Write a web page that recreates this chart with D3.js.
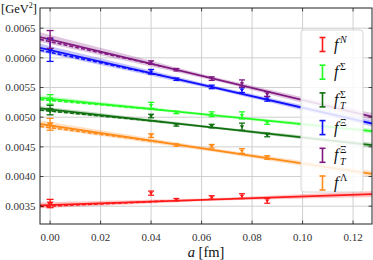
<!DOCTYPE html>
<html><head><meta charset="utf-8">
<script src="https://cdn.jsdelivr.net/npm/d3@7"></script>
<style>body{margin:0;background:#fff}svg{display:block}</style>
</head><body>
<svg id="c" width="373" height="260"></svg>
<script>
const aVals = [0, 0.040, 0.050, 0.064, 0.076, 0.086];
const xTicks = [0, 0.02, 0.04, 0.06, 0.08, 0.10, 0.12];
const yTicks = [0.0035, 0.0040, 0.0045, 0.0050, 0.0055, 0.0060, 0.0065];
const names = ["N", "Sigma", "TSigma", "Xi", "TXi", "Lambda"];
const colors = ["#ff1a1a", "#22ff22", "#107010", "#1010ff", "#801880", "#ff8c1a"];
const fN      = [0.003545, 0.00372, 0.00361, 0.003647, 0.00367, 0.00359];
const fNErr   = [0.00007, 0.000035, 0.00002, 0.00003, 0.00004, 0.00004];
const fS      = [0.00530, 0.00520, 0.00508, 0.00505, 0.00503, 0.00491];
const fSErr   = [0.00008, 0.00005, 0.00002, 0.00004, 0.00006, 0.00003];
const fTS     = [0.00512, 0.00502, 0.00487, 0.00485, 0.00484, 0.00470];
const fTSErr  = [0.00008, 0.00003, 0.00002, 0.00003, 0.00006, 0.00003];
const fX      = [0.00613, 0.005765, 0.00564, 0.00551, 0.005456, 0.00531];
const fXErr   = [0.00019, 0.00004, 0.00002, 0.00003, 0.00004, 0.00004];
const fTX     = [0.00631, 0.00592, 0.00580, 0.00565, 0.005568, 0.005388];
const fTXErr  = [0.00015, 0.00003, 0.00002, 0.00003, 0.00006, 0.00004];
const fL      = [0.00488, 0.00469, 0.00453, 0.00451, 0.00443, 0.00432];
const fLErr   = [0.00010, 0.00003, 0.00002, 0.00003, 0.00004, 0.00003];
const values = [fN, fS, fTS, fX, fTX, fL];
const errors = [fNErr, fSErr, fTSErr, fXErr, fTXErr, fLErr];
// linear fits: intercept, slope
const fitIntercept = [0.00352, 0.00531, 0.00513, 0.00613, 0.00631, 0.00486];
const fitSlope     = [0.00145, -0.00427, -0.0047, -0.0097, -0.0102, -0.0064];
// band half-widths at a = bandA
const bandA = [-0.004, 0.065, 0.1275];
const bandHW = [
  [0.00005, 0.00002, 0.00005],
  [0.00004, 0.00002, 0.00004],
  [0.00004, 0.00002, 0.00004],
  [0.00007, 0.00003, 0.00005],
  [0.00008, 0.00003, 0.00006],
  [0.00006, 0.00003, 0.00005]];
// alternative (dashed) fit: offset at a=-0.004, meets main fit at dashEnd
const dashOffset = [0.00002, 0.00003, 0.00003, 0.00004, 0.00004, 0.00004];
const dashEnd = 0.045;
const labels = [["N","",true],["Σ","",false],["Σ","T",false],["Ξ","",false],["Ξ","T",false],["Λ","",false]];

const svg = d3.select("#c");
const L=40, R=372, T=8, B=224;
const x = d3.scaleLinear().domain([-0.004, 0.1275]).range([L, R]);
const y = d3.scaleLinear().domain([0.00320, 0.00684]).range([B, T]);

svg.append("defs").append("clipPath").attr("id","clip")
  .append("rect").attr("x",L).attr("y",T).attr("width",R-L).attr("height",B-T);

// grid
const g = svg.append("g");
g.selectAll(".gx").data(xTicks).join("line")
  .attr("x1",d=>x(d)).attr("x2",d=>x(d)).attr("y1",T).attr("y2",B)
  .attr("stroke","#cfcfcf").attr("stroke-width",1);
g.selectAll(".gy").data(yTicks).join("line")
  .attr("y1",d=>y(d)).attr("y2",d=>y(d)).attr("x1",L).attr("x2",R)
  .attr("stroke","#cfcfcf").attr("stroke-width",1);

const plot = svg.append("g").attr("clip-path","url(#clip)");
const dom = x.domain();
const fit = (i,a)=>fitIntercept[i]+fitSlope[i]*a;
const hw = (i,a)=>{
  const A=bandA, H=bandHW[i];
  if (a<=A[1]) return H[0]+(H[1]-H[0])*(a-A[0])/(A[1]-A[0]);
  return H[1]+(H[2]-H[1])*(a-A[1])/(A[2]-A[1]);
};
const grid = d3.range(0, 41).map(k=>dom[0]+(dom[1]-dom[0])*k/40);

names.forEach((n,i)=>{
  const area = d3.area().x(a=>x(a)).y0(a=>y(fit(i,a)-hw(i,a))).y1(a=>y(fit(i,a)+hw(i,a)));
  plot.append("path").attr("d",area(grid)).attr("fill",colors[i]).attr("opacity",0.25);
});
names.forEach((n,i)=>{
  plot.append("line").attr("x1",x(dom[0])).attr("x2",x(dom[1]))
    .attr("y1",y(fit(i,dom[0]))).attr("y2",y(fit(i,dom[1])))
    .attr("stroke",colors[i]).attr("stroke-width",1.8);
  plot.append("line").attr("x1",x(dom[0])).attr("x2",x(dashEnd))
    .attr("y1",y(fit(i,dom[0])-dashOffset[i])).attr("y2",y(fit(i,dashEnd)))
    .attr("stroke",colors[i]).attr("stroke-width",1.6).attr("stroke-dasharray","4,2");
});
// error bars
names.forEach((n,i)=>{
  const gg = plot.append("g").attr("stroke",colors[i]).attr("fill",colors[i]);
  aVals.forEach((a,j)=>{
    const v=values[i][j], e=errors[i][j], cx=x(a);
    const cw = j===0?3.5:3;
    gg.append("line").attr("x1",cx).attr("x2",cx).attr("y1",y(v-e)).attr("y2",y(v+e)).attr("stroke-width",1.3);
    [v-e,v+e].forEach(w=>gg.append("line").attr("x1",cx-cw).attr("x2",cx+cw).attr("y1",y(w)).attr("y2",y(w)).attr("stroke-width",1.3));
    const s = j===0?3.5:2.2;
    gg.append("path").attr("d",`M${cx-s},${y(v)-s*0.6}L${cx+s},${y(v)-s*0.6}L${cx},${y(v)+s*0.9}Z`).attr("stroke","none");
  });
});

// frame & ticks
svg.append("rect").attr("x",L).attr("y",T).attr("width",R-L).attr("height",B-T)
  .attr("fill","none").attr("stroke","#222").attr("stroke-width",1);
const tk = svg.append("g").attr("stroke","#222").attr("stroke-width",0.8);
xTicks.forEach(t=>{
  tk.append("line").attr("x1",x(t)).attr("x2",x(t)).attr("y1",B).attr("y2",B-3.5);
  tk.append("line").attr("x1",x(t)).attr("x2",x(t)).attr("y1",T).attr("y2",T+3.5);
});
yTicks.forEach(t=>{
  tk.append("line").attr("y1",y(t)).attr("y2",y(t)).attr("x1",L).attr("x2",L+3.5);
  tk.append("line").attr("y1",y(t)).attr("y2",y(t)).attr("x1",R).attr("x2",R-3.5);
});
const font = "'Liberation Serif', 'DejaVu Serif', serif";
svg.append("g").selectAll("text").data(xTicks).join("text")
  .attr("x",d=>x(d)).attr("y",241).attr("text-anchor","middle")
  .attr("font-family",font).attr("font-size",11).attr("fill","#333")
  .text(d=>d3.format(".2f")(d));
svg.append("g").selectAll("text").data(yTicks).join("text")
  .attr("x",35.5).attr("y",d=>y(d)+3.8).attr("text-anchor","end")
  .attr("font-family",font).attr("font-size",11).attr("fill","#333")
  .text(d=>d3.format(".4f")(d));

// axis labels
const xl = svg.append("text").attr("x",206).attr("y",257).attr("text-anchor","middle")
  .attr("font-family",font).attr("font-size",14.5).attr("fill","#111");
xl.append("tspan").attr("font-style","italic").text("a");
xl.append("tspan").text(" [fm]");
const yl = svg.append("text").attr("x",1).attr("y",13)
  .attr("font-family",font).attr("font-size",12.5).attr("fill","#111");
yl.append("tspan").text("[GeV");
yl.append("tspan").attr("font-size",8).attr("dy",-5).text("2");
yl.append("tspan").attr("dy",5).text("]");

// legend
const lg = svg.append("g");
lg.append("rect").attr("x",301).attr("y",30).attr("width",62).attr("height",162).attr("rx",3)
  .attr("fill","#fff").attr("fill-opacity",0.85).attr("stroke","#d6d6d6").attr("stroke-width",1);
labels.forEach((lb,i)=>{
  const cy = 44.5 + i*27.7;
  const bx = 322.5;
  const e = lg.append("g").attr("stroke",colors[i]).attr("stroke-width",1.6);
  e.append("line").attr("x1",bx).attr("x2",bx).attr("y1",cy-7).attr("y2",cy+7);
  e.append("line").attr("x1",bx-3).attr("x2",bx+3).attr("y1",cy-7).attr("y2",cy-7);
  e.append("line").attr("x1",bx-3).attr("x2",bx+3).attr("y1",cy+7).attr("y2",cy+7);
  const t = lg.append("text").attr("x",334).attr("y",cy+5)
    .attr("font-family",font).attr("font-size",16).attr("fill","#111");
  t.append("tspan").attr("font-style","italic").text("f");
  t.append("tspan").attr("font-size",10).attr("font-style",lb[2]?"italic":"normal")
    .attr("dx",1.5).attr("dy",-7).text(lb[0]);
  if (lb[1]) {
    t.append("tspan").attr("font-size",10).attr("font-style","italic")
      .attr("x",340).attr("dy",11.5).text(lb[1]);
  }
});
</script>
</body></html>
